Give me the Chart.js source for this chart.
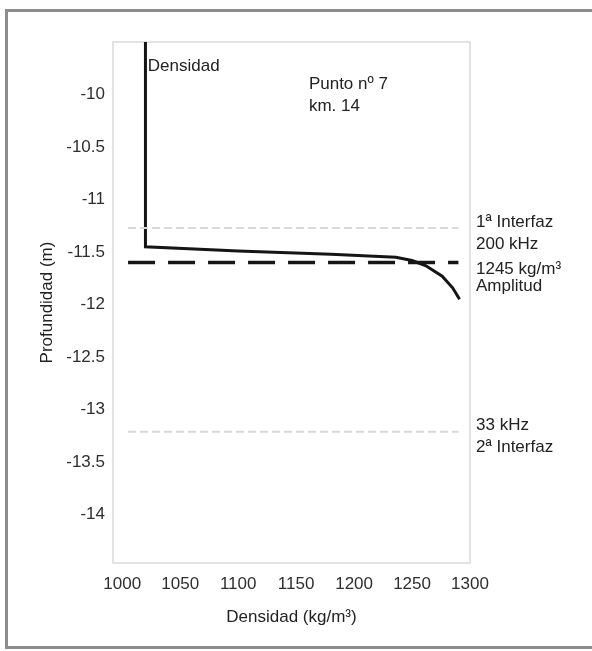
<!DOCTYPE html>
<html>
<head>
<meta charset="utf-8">
<script src="https://cdn.jsdelivr.net/npm/chart.js@4.4.0/dist/chart.umd.min.js"></script>
<style>
  html, body { margin: 0; padding: 0; background: #fff; }
  #wrap { width: 592px; height: 651px; position: relative; }
</style>
</head>
<body>
<div id="wrap"><canvas id="perfil"></canvas></div>
<script>
// datos
const densidad = [1020, 1020, 1100, 1180, 1236, 1250, 1262, 1276, 1285, 1291];
const profundidad = [-9.5, -11.45, -11.49, -11.52, -11.55, -11.58, -11.63, -11.73, -11.84, -11.95];

const lineaX = [1005, 1290];
const interfaz1 = -11.27;
const amplitud = -11.6;
const interfaz2 = -13.21;

const ticksX = [1000, 1050, 1100, 1150, 1200, 1250, 1300];
const ticksY = [-10, -10.5, -11, -11.5, -12, -12.5, -13, -13.5, -14];

// textos
const notas = [
    { txt: 'Densidad', x: 1022, y: -9.73 },
    { txt: 'Punto nº 7', x: 1161, y: -9.9 },
    { txt: 'km. 14', x: 1161, y: -10.11 }
];
const notasDer = [
    { txt: '1ª Interfaz', y: -11.22 },
    { txt: '200 kHz', y: -11.43 },
    { txt: '1245 kg/m³', y: -11.66 },
    { txt: 'Amplitud', y: -11.83 },
    { txt: '33 kHz', y: -13.15 },
    { txt: '2ª Interfaz', y: -13.36 }
];

const fuente = 'Arial, "Liberation Sans", sans-serif';

const horiz = (y) => lineaX.map(x => ({ x: x, y: y }));

const marco = {
    id: 'marco',
    beforeDraw(chart) {
        const ctx = chart.ctx;
        const a = chart.chartArea;
        ctx.save();
        ctx.strokeStyle = '#8c8c8c';
        ctx.lineWidth = 3;
        ctx.strokeRect(6.5, 10.5, 600, 637);
        ctx.strokeStyle = '#dadada';
        ctx.lineWidth = 1.5;
        ctx.strokeRect(a.left, a.top, a.right - a.left, a.bottom - a.top);
        ctx.restore();
    },
    afterDraw(chart) {
        const ctx = chart.ctx;
        const sx = chart.scales.x, sy = chart.scales.y;
        ctx.save();
        ctx.fillStyle = '#222';
        ctx.font = '17px ' + fuente;
        ctx.textBaseline = 'middle';
        notas.forEach(n => ctx.fillText(n.txt, sx.getPixelForValue(n.x), sy.getPixelForValue(n.y)));
        notasDer.forEach(n => ctx.fillText(n.txt, chart.chartArea.right + 6, sy.getPixelForValue(n.y)));
        ctx.restore();
    }
};

new Chart(document.getElementById('perfil'), {
    type: 'line',
    data: {
        datasets: [{
            label: '1ª Interfaz',
            data: horiz(interfaz1),
            borderColor: '#d8d8d8',
            borderWidth: 2,
            borderDash: [8, 4],
            pointRadius: 0
        }, {
            label: '2ª Interfaz',
            data: horiz(interfaz2),
            borderColor: '#d8d8d8',
            borderWidth: 2,
            borderDash: [8, 4],
            pointRadius: 0
        }, {
            label: 'Amplitud',
            data: horiz(amplitud),
            borderColor: '#151515',
            borderWidth: 3.5,
            borderDash: [27, 13],
            pointRadius: 0
        }, {
            label: 'Densidad',
            data: densidad.map((d, i) => ({ x: d, y: profundidad[i] })),
            borderColor: '#151515',
            borderWidth: 3,
            pointRadius: 0,
            tension: 0
        }]
    },
    plugins: [marco],
    options: {
        responsive: true,
        maintainAspectRatio: false,
        animation: false,
        layout: { padding: { left: 34, right: 122, top: 42, bottom: 22 } },
        plugins: {
            legend: { display: false },
            tooltip: { enabled: false }
        },
        scales: {
            x: {
                type: 'linear',
                min: 992,
                max: 1300,
                afterFit: (s) => { s.height = 66; },
                afterBuildTicks: (s) => { s.ticks = ticksX.map(v => ({ value: v })); },
                grid: { display: false, drawTicks: false },
                border: { display: false },
                ticks: { color: '#2e2e2e', padding: 11, font: { size: 17, family: fuente }, callback: (v) => String(v) },
                title: {
                    display: true,
                    text: 'Densidad (kg/m³)',
                    color: '#222',
                    font: { size: 17, family: fuente },
                    padding: { top: 0, bottom: 1 }
                }
            },
            y: {
                type: 'linear',
                min: -14.46,
                max: -9.5,
                afterFit: (s) => { s.width = 79; },
                afterBuildTicks: (s) => { s.ticks = ticksY.map(v => ({ value: v })); },
                grid: { display: false, drawTicks: false },
                border: { display: false },
                ticks: { color: '#2e2e2e', padding: 8, font: { size: 17, family: fuente }, callback: (v) => String(v) },
                title: {
                    display: true,
                    text: 'Profundidad (m)',
                    color: '#222',
                    font: { size: 17, family: fuente },
                    padding: { top: 3, bottom: 0 }
                }
            }
        }
    }
});
</script>
</body>
</html>
